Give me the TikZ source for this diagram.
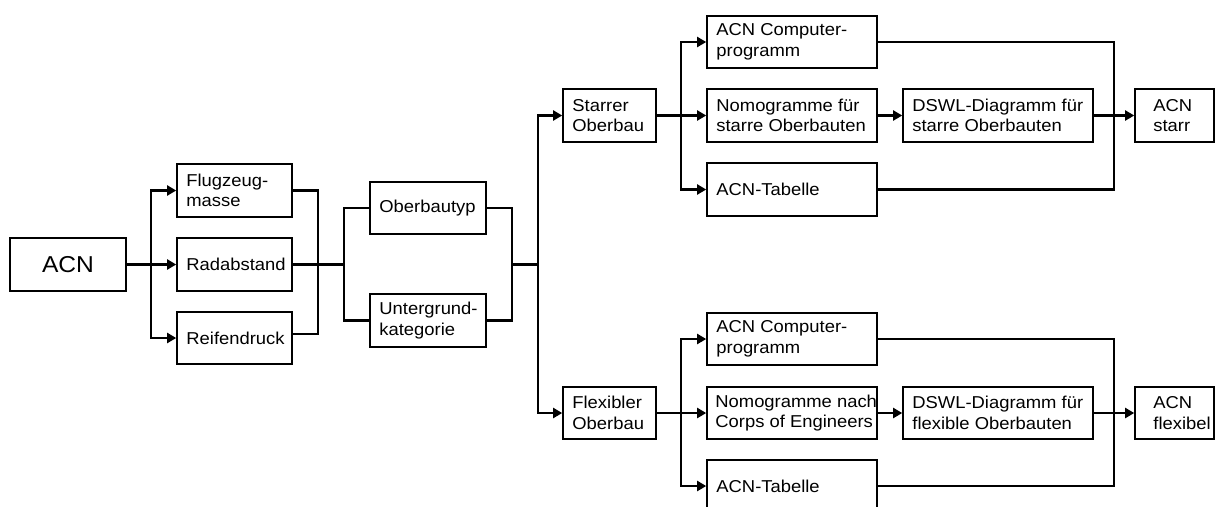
\documentclass[tikz,border=0pt]{standalone}
\usepackage{fontspec}
\setmainfont{Liberation Sans}[FakeStretch=1.07]
\usetikzlibrary{arrows.meta,positioning}
\tikzset{
  box/.style={draw=black, line width=1.6pt, rectangle, inner sep=0pt, minimum height=52.5pt},
  txt/.style={inner sep=0pt, anchor=west, align=left, font=\fontsize{17.2}{20.5}\selectfont},
  con/.style={line width=2.1pt},
  arr/.style={line width=2.1pt, -{Triangle[length=9pt,width=10pt]}}
}
\begin{document}
\begin{tikzpicture}[x=1pt,y=-1pt]
\useasboundingbox (0,0) rectangle (1215,506);
% left part
\node[box, minimum width=116pt] (acn) at (68,264.5) {};
\node[inner sep=0pt, font=\fontsize{23}{26}\selectfont] (acnt) at (acn.center) {ACN};
\node[box, minimum width=115pt] (flug) at (234.5,190.5) {};
\node[txt, right=10pt of flug.west] (flugt) {Flugzeug-\\masse};
\node[box, minimum width=115pt] (rad) at (234.5,264.5) {};
\node[txt, right=10pt of rad.west] (radt) {Radabstand};
\node[box, minimum width=115pt] (reif) at (234.5,338) {};
\node[txt, right=10pt of reif.west] (reift) {Reifendruck};
\node[box, minimum width=116pt] (ober) at (428,208) {};
\node[txt, right=10pt of ober.west] (obert) {Oberbautyp};
\node[box, minimum width=116pt] (unter) at (428,320.5) {};
\node[txt, right=10pt of unter.west] (untert) {Untergrund-\\kategorie};
% middle
\node[box, minimum width=93pt] (starr) at (609.5,115.5) {};
\node[txt, right=10pt of starr.west] (starrt) {Starrer\\Oberbau};
\node[box, minimum width=93pt] (flex) at (609.5,413) {};
\node[txt, right=10pt of flex.west] (flext) {Flexibler\\Oberbau};
% top group
\node[box, minimum width=170pt] (c1) at (792,42) {};
\node[txt, right=10pt of c1.west] (c1t) {ACN Computer-\\programm};
\node[box, minimum width=170pt] (n1) at (792,115.5) {};
\node[txt, right=10pt of n1.west] (n1t) {Nomogramme für\\starre Oberbauten};
\node[box, minimum width=170pt] (t1) at (792,189.5) {};
\node[txt, right=10pt of t1.west] (t1t) {ACN-Tabelle};
\node[box, minimum width=190pt] (d1) at (998,115.5) {};
\node[txt, right=10pt of d1.west] (d1t) {DSWL-Diagramm für\\starre Oberbauten};
\node[box, minimum width=79pt] (a1) at (1174.5,115.5) {};
\node[txt, right=19pt of a1.west] (a1t) {ACN\\starr};
% bottom group
\node[box, minimum width=170pt] (c2) at (792,339) {};
\node[txt, right=10pt of c2.west] (c2t) {ACN Computer-\\programm};
\node[box, minimum width=170pt] (n2) at (792,413) {};
\node[txt, right=9pt of n2.west] (n2t) {Nomogramme nach\\Corps of Engineers};
\node[box, minimum width=170pt] (t2) at (792,486) {};
\node[txt, right=10pt of t2.west] (t2t) {ACN-Tabelle};
\node[box, minimum width=190pt] (d2) at (998,413) {};
\node[txt, right=10pt of d2.west] (d2t) {DSWL-Diagramm für\\flexible Oberbauten};
\node[box, minimum width=79pt] (a2) at (1174.5,413) {};
\node[txt, right=19pt of a2.west] (a2t) {ACN\\flexibel};
% junctions
\coordinate (j1) at (151,264.5);
\coordinate (j2) at (318,264.5);
\coordinate (j3) at (344,264.5);
\coordinate (j4) at (512,264.5);
\coordinate (j5) at (538,264.5);
\coordinate (j6) at (681,115.5);
\coordinate (j7) at (1114,115.5);
\coordinate (k6) at (681,413);
\coordinate (k7) at (1114,413);
% connectors left
\draw[con] (acn.east) -- (j1);
\draw[arr] (j1) |- (flug.west);
\draw[arr] (j1) -- (rad.west);
\draw[arr] (j1) |- (reif.west);
\draw[con] (flug.east) -| (j2);
\draw[con] (rad.east) -- (j3);
\draw[con] ([yshift=4pt]reif.east) -| (j2);
\draw[con] (j3) |- (ober.west);
\draw[con] (j3) |- (unter.west);
\draw[con] (ober.east) -| (j4);
\draw[con] (unter.east) -| (j4);
\draw[con] (j4) -- (j5);
\draw[arr] (j5) |- (starr.west);
\draw[arr] (j5) |- (flex.west);
% top group
\draw[con] (starr.east) -- (j6);
\draw[arr] (j6) |- (c1.west);
\draw[arr] (j6) -- (n1.west);
\draw[arr] (j6) |- (t1.west);
\draw[arr] (n1.east) -- (d1.west);
\draw[con] (c1.east) -| (j7);
\draw[con] (t1.east) -| (j7);
\draw[con] (d1.east) -- (j7);
\draw[arr] (j7) -- (a1.west);
% bottom group
\draw[con] (flex.east) -- (k6);
\draw[arr] (k6) |- (c2.west);
\draw[arr] (k6) -- (n2.west);
\draw[arr] (k6) |- (t2.west);
\draw[arr] (n2.east) -- (d2.west);
\draw[con] (c2.east) -| (k7);
\draw[con] (t2.east) -| (k7);
\draw[con] (d2.east) -- (k7);
\draw[arr] (k7) -- (a2.west);
\end{tikzpicture}
\end{document}
